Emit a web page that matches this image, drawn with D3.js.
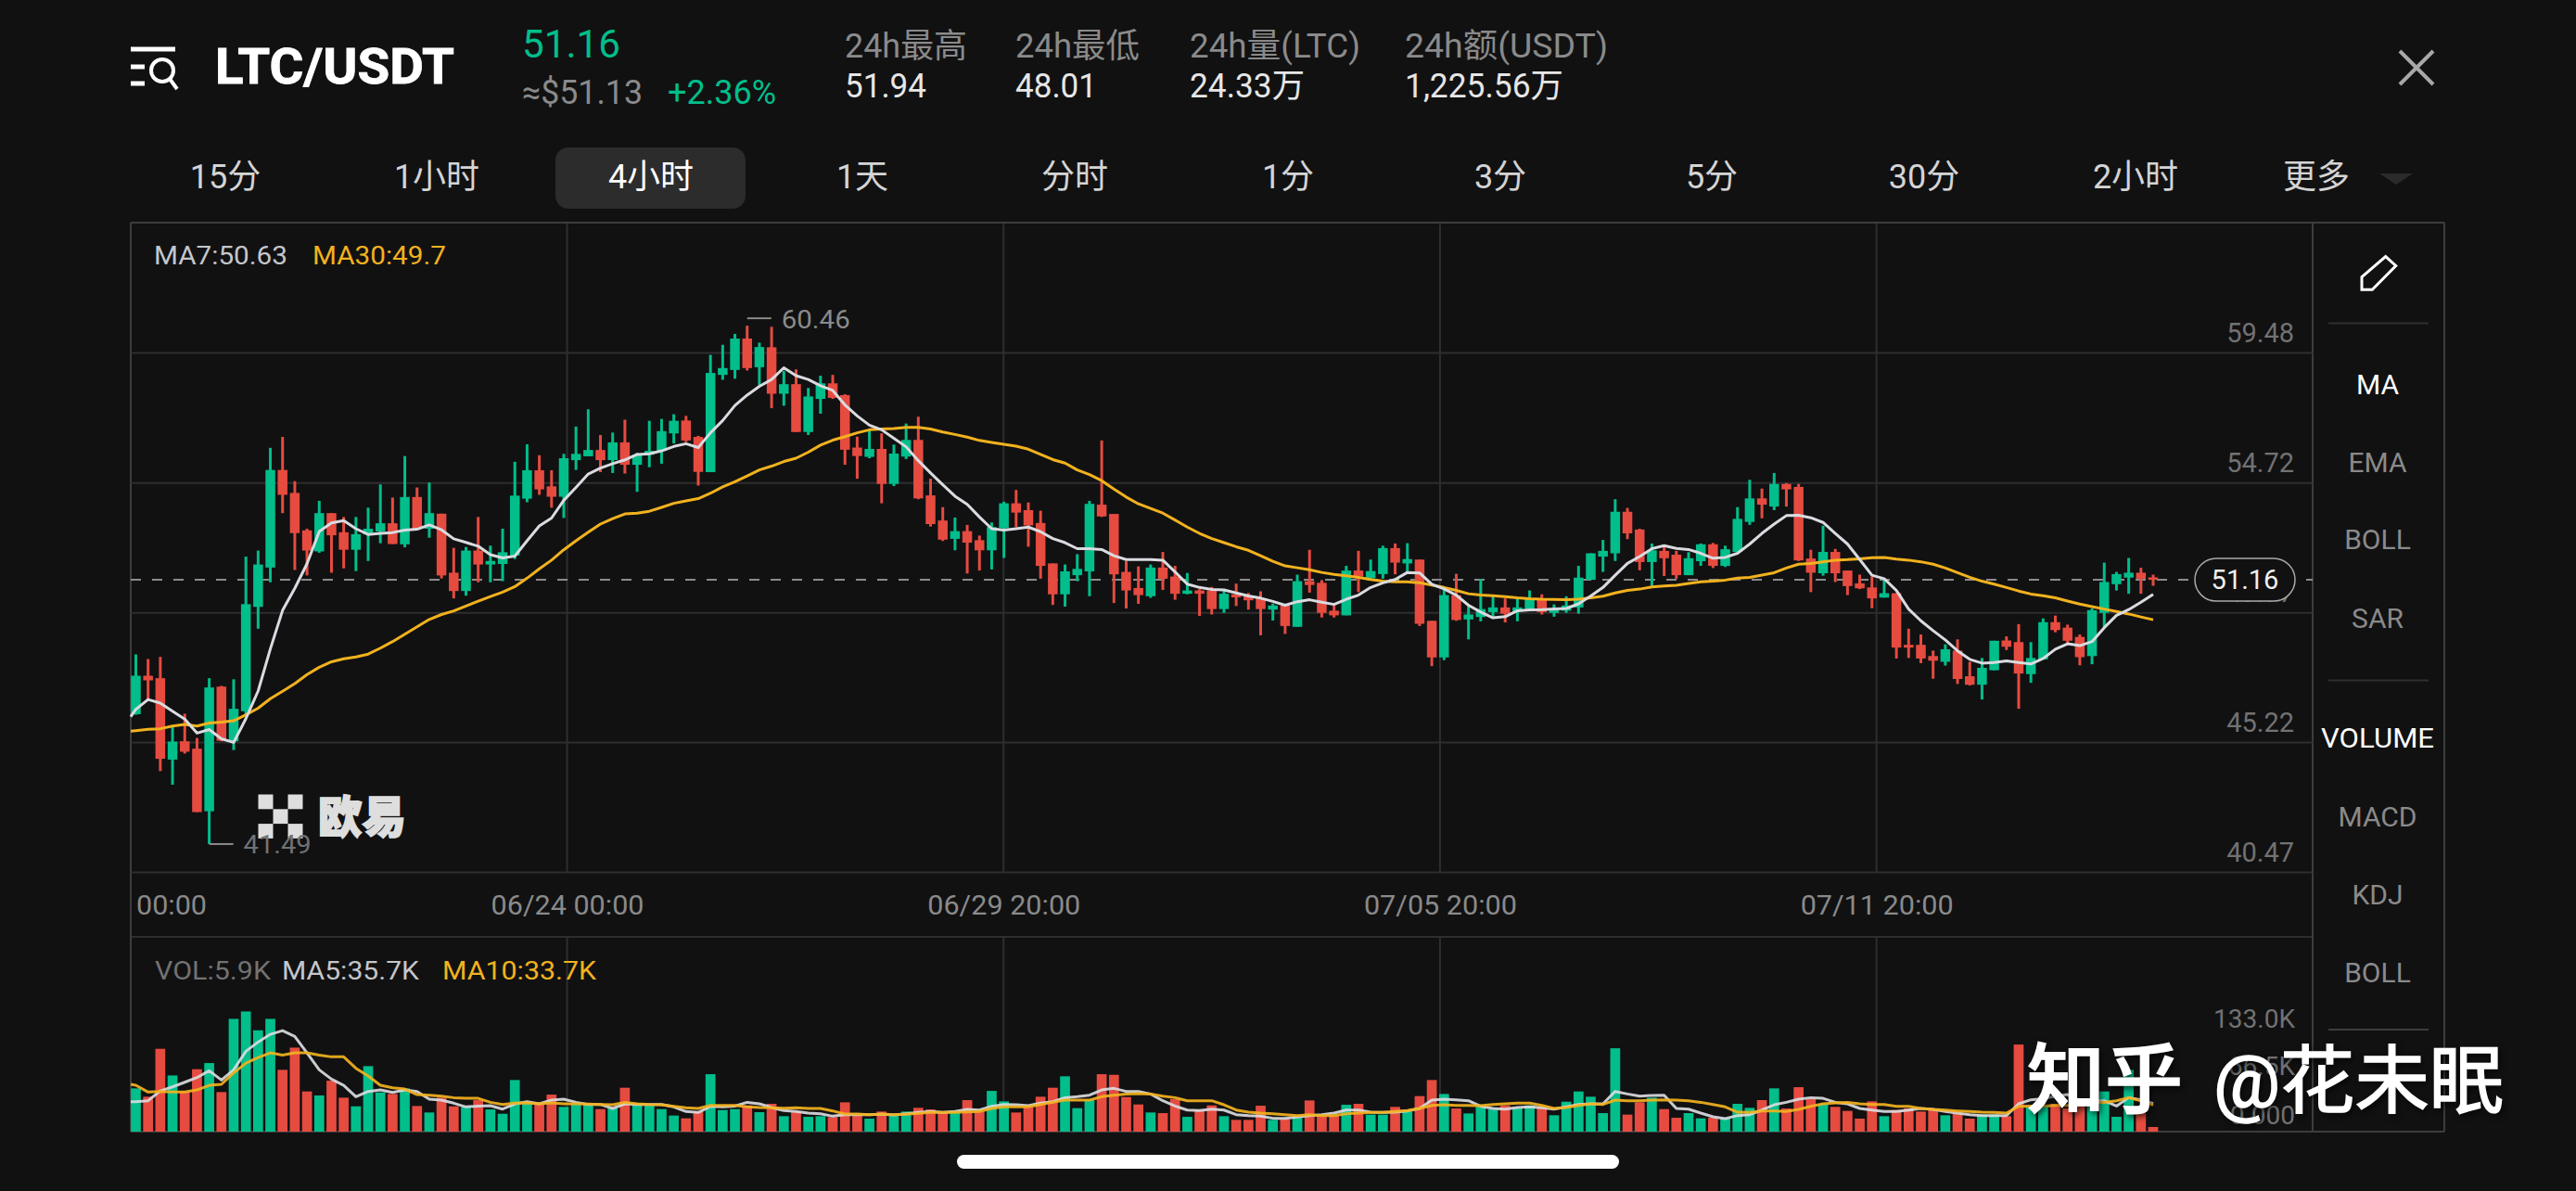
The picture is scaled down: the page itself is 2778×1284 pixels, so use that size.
<!DOCTYPE html>
<html lang="zh">
<head>
<meta charset="utf-8">
<title>LTC/USDT 4小时</title>
<script src="https://cdn.jsdelivr.net/npm/d3@7"></script>
<style>
  html, body { margin: 0; padding: 0; background: #111112; }
  svg { display: block; }
  text { font-family: Roboto, "Noto Sans CJK SC", sans-serif; }
</style>
</head>
<body>
<svg id="chart" width="2778" height="1284"></svg>
<script>
// Four-hour candles, oldest first
const opens = [
46.24,47.65,47.56,44.58,45.25,44.98,42.69,47.25,45.25,46.35,
50.17,51.61,55.18,54.34,52.97,52.20,53.60,52.90,52.26,52.82,
52.93,53.23,52.46,54.19,53.03,53.58,51.42,50.75,52.23,51.72,
51.74,52.05,54.13,55.17,54.58,54.20,55.54,55.68,55.91,55.54,
56.19,55.37,55.74,55.88,56.52,56.99,56.39,55.10,58.66,58.84,
59.99,58.94,59.67,57.97,58.32,56.57,57.78,58.35,57.92,56.00,
55.66,55.95,54.67,55.67,56.28,54.25,53.33,52.66,52.94,52.61,
52.24,53.05,53.96,53.71,53.24,51.76,50.63,51.33,51.47,53.91,
53.57,51.45,50.86,50.56,51.61,51.28,50.65,50.77,50.77,50.09,
50.63,50.56,50.48,50.07,50.22,49.44,51.11,51.05,50.03,49.86,
51.50,51.22,51.37,52.32,51.76,51.90,49.66,48.32,50.60,49.71,
49.80,49.98,50.15,50.00,50.09,50.45,49.95,50.03,50.15,51.16,
52.01,52.13,53.65,53.00,51.81,52.22,52.08,51.33,51.84,52.46,
51.67,52.18,53.28,54.14,53.84,54.67,54.56,51.94,51.40,52.18,
51.50,51.03,50.88,50.51,50.67,48.78,48.78,48.37,48.16,48.57,
47.63,47.32,47.85,48.94,48.88,47.71,48.25,49.61,49.41,49.07,
48.37,49.95,51.00,51.24,51.42,51.25];

const highs = [
48.43,48.26,48.34,45.79,46.26,45.37,47.56,47.28,47.52,52.01,
52.23,55.99,56.39,54.77,53.03,54.05,53.60,53.46,53.46,53.80,
54.65,54.17,55.69,54.54,54.72,53.58,52.33,52.36,53.46,52.41,
53.03,55.48,56.12,55.72,55.17,55.77,56.77,57.40,56.46,56.55,
57.02,55.81,56.98,57.05,57.22,57.16,56.43,59.39,59.76,60.16,
60.46,59.84,60.42,58.80,58.86,58.18,58.63,58.66,57.95,56.40,
56.63,56.52,56.11,56.88,57.13,54.86,53.82,53.44,53.17,52.78,
53.26,54.02,54.45,53.99,53.69,51.76,51.72,52.10,54.05,56.26,
53.57,51.84,51.65,51.72,52.18,51.67,51.41,50.82,50.90,50.77,
51.02,50.68,50.74,50.29,50.26,51.35,52.26,51.15,50.22,51.67,
52.22,51.90,52.41,52.49,52.50,51.90,49.66,50.79,51.38,50.20,
51.19,50.58,50.48,50.48,50.77,50.63,50.26,50.56,51.67,52.13,
52.62,54.11,53.79,53.03,52.49,52.41,52.22,52.17,52.49,52.51,
52.41,53.82,54.82,54.50,55.07,54.70,54.67,52.26,53.14,52.29,
51.50,51.35,51.28,51.14,50.67,49.37,49.16,48.57,48.80,48.98,
48.16,48.30,48.93,49.09,49.54,48.88,49.75,49.85,49.52,49.16,
50.11,51.79,51.45,51.96,51.60,51.35];

const lows = [
46.22,46.75,44.16,43.66,44.80,42.66,41.49,45.25,44.93,46.22,
49.37,51.07,53.60,51.52,51.32,52.15,51.42,51.58,51.48,51.85,
52.50,52.47,52.35,53.03,52.70,51.21,50.48,50.58,51.07,51.07,
51.11,51.92,54.00,54.27,53.80,53.42,55.18,55.68,55.10,55.07,
55.05,54.38,55.28,55.41,56.15,56.20,54.61,55.10,58.48,58.52,
58.82,58.29,57.44,57.53,56.57,56.46,57.24,57.78,55.37,54.86,
55.61,53.96,54.59,55.58,54.11,53.11,52.58,52.24,51.39,51.50,
51.54,51.96,53.09,52.37,51.20,50.24,50.18,51.11,50.56,53.46,
50.31,50.11,50.28,50.50,50.79,50.43,50.63,49.84,49.89,49.95,
50.20,50.07,49.13,49.67,49.18,49.44,50.69,49.78,49.78,49.86,
50.71,51.20,51.20,51.36,51.45,49.47,48.00,48.22,49.66,48.98,
49.64,49.78,49.60,49.64,50.07,49.89,49.81,49.95,49.92,51.16,
51.45,51.85,52.65,51.51,50.94,51.30,51.20,51.33,51.67,51.59,
51.63,52.18,53.17,53.41,53.71,53.84,51.85,50.71,51.31,51.08,
50.60,50.82,50.12,50.51,48.28,48.30,48.11,47.54,48.02,47.35,
47.29,46.78,47.85,48.59,46.44,47.39,48.25,49.24,48.84,48.03,
48.07,49.41,50.77,50.65,50.65,50.94];

const closes = [
47.65,47.48,44.61,45.24,44.87,42.66,47.22,45.27,46.44,50.27,
51.72,55.18,54.27,52.87,52.23,53.60,52.79,52.26,52.83,53.03,
53.23,52.47,54.19,53.03,53.60,51.32,50.75,52.23,51.72,51.85,
52.17,54.24,55.17,54.47,54.20,55.61,55.77,55.91,55.54,56.19,
55.37,55.74,55.88,56.60,56.98,56.26,55.11,58.73,58.91,59.99,
58.91,59.68,57.97,58.32,56.57,57.87,58.35,57.82,55.92,55.69,
55.95,54.67,55.78,56.28,54.14,53.20,52.63,52.94,52.52,52.24,
53.09,53.96,53.62,53.15,51.67,50.63,51.47,51.56,53.94,53.48,
51.36,50.77,50.60,51.61,51.20,50.65,50.77,50.65,50.09,50.65,
50.52,50.41,50.09,50.22,49.47,51.11,50.97,49.95,49.86,51.50,
51.28,51.48,52.32,51.79,51.92,49.55,48.32,50.60,49.69,49.89,
50.09,50.15,49.92,50.15,50.45,49.98,50.11,50.22,51.24,52.13,
52.22,53.65,52.86,51.81,52.24,51.95,51.33,51.95,52.46,51.67,
52.28,53.39,54.14,53.91,54.67,54.47,51.87,51.42,52.18,51.40,
50.93,50.85,50.48,50.67,48.68,48.68,48.28,48.20,48.62,47.53,
47.32,47.94,48.93,48.71,47.73,48.30,49.61,49.32,48.93,48.33,
50.05,51.08,51.37,51.42,51.20,51.16];

// Moving averages plotted over the candles
const ma7 = [
46.42,46.78,46.65,46.35,46.06,45.55,45.68,45.34,45.21,46.08,
47.09,48.63,50.04,50.85,51.75,52.93,53.24,53.33,53.03,52.82,
52.86,52.89,52.98,53.01,53.17,52.99,52.66,52.53,52.39,52.08,
51.96,52.03,52.59,53.13,53.42,54.07,54.54,55.03,55.25,55.41,
55.55,55.75,55.77,55.88,56.04,56.14,56.00,56.54,56.99,57.54,
57.92,58.24,58.49,58.92,58.63,58.49,58.26,58.09,57.56,57.16,
56.82,56.65,56.34,56.03,55.52,55.07,54.64,54.22,53.92,53.46,
53.03,52.98,53.03,53.09,52.92,52.67,52.52,52.30,52.30,52.27,
52.04,51.90,51.90,51.90,51.88,51.45,51.00,50.88,50.81,50.79,
50.68,50.57,50.49,50.37,50.23,50.36,50.43,50.34,50.26,50.45,
50.60,50.88,51.05,51.17,51.43,51.41,51.00,50.83,50.60,50.23,
49.98,49.77,49.81,50.03,50.06,50.07,50.09,50.11,50.28,50.57,
50.88,51.33,51.76,52.01,52.30,52.41,52.31,52.27,52.13,51.95,
51.98,52.13,52.47,52.86,53.20,53.51,53.52,53.43,53.26,52.86,
52.47,51.90,51.33,51.20,50.77,50.09,49.66,49.30,48.96,48.56,
48.25,48.11,48.13,48.19,48.13,48.08,48.28,48.62,48.82,48.75,
48.90,49.41,49.86,50.07,50.34,50.63];

const ma30 = [
45.64,45.69,45.71,45.81,45.87,45.81,45.92,45.95,46.00,46.22,
46.46,46.81,47.08,47.36,47.69,47.96,48.16,48.27,48.34,48.44,
48.66,48.90,49.17,49.44,49.71,49.89,50.02,50.20,50.38,50.55,
50.71,50.91,51.22,51.56,51.88,52.26,52.59,52.90,53.20,53.40,
53.57,53.60,53.67,53.81,53.96,54.05,54.13,54.33,54.56,54.75,
54.96,55.18,55.32,55.49,55.61,55.83,56.09,56.27,56.40,56.54,
56.65,56.68,56.70,56.74,56.74,56.68,56.57,56.48,56.38,56.26,
56.19,56.12,56.05,55.94,55.75,55.56,55.43,55.18,55.01,54.79,
54.48,54.19,53.94,53.77,53.60,53.35,53.09,52.86,52.67,52.52,
52.37,52.24,52.04,51.84,51.67,51.60,51.53,51.43,51.36,51.31,
51.25,51.17,51.11,51.09,51.09,51.05,50.97,50.88,50.77,50.65,
50.60,50.58,50.54,50.50,50.47,50.45,50.44,50.43,50.45,50.50,
50.56,50.68,50.77,50.82,50.90,50.93,50.96,51.03,51.09,51.11,
51.15,51.22,51.25,51.33,51.42,51.59,51.73,51.76,51.82,51.88,
51.90,51.93,51.97,51.98,51.92,51.88,51.82,51.73,51.59,51.42,
51.25,51.11,51.00,50.88,50.75,50.64,50.58,50.50,50.38,50.27,
50.18,50.09,50.00,49.91,49.80,49.70];

// Traded volume per candle and its moving averages, in thousands of LTC
const volumes = [
54.9,44.3,105.1,71.3,51.0,79.2,87.0,50.2,143.1,152.5,
128.6,143.1,78.4,106.6,51.0,45.9,64.7,43.1,32.1,83.1,
49.8,47.8,54.9,32.5,24.3,43.1,32.1,31.4,40.0,28.2,
22.7,65.5,37.2,35.3,47.0,31.4,35.3,35.3,28.6,29.4,
55.7,35.3,35.3,28.6,20.4,16.9,25.5,72.9,27.4,28.6,
33.3,24.7,35.3,19.6,25.5,18.8,19.6,18.4,37.2,20.4,
16.5,25.5,20.4,25.5,30.2,28.2,25.5,26.3,40.0,25.5,
51.7,38.4,24.3,31.4,44.3,55.7,70.2,29.8,40.0,72.9,
72.1,43.9,34.5,24.3,23.5,41.2,18.8,27.4,33.3,19.6,
14.9,14.9,32.9,14.9,15.7,17.6,39.6,19.6,20.4,34.1,
35.3,21.6,21.6,31.4,25.5,45.1,65.5,47.8,29.4,23.1,
33.3,28.2,33.3,29.4,33.3,31.4,20.8,38.0,51.0,44.3,
23.5,105.8,21.6,37.2,43.1,28.6,17.6,23.5,16.9,17.6,
16.9,35.3,30.2,40.0,54.9,29.4,56.4,41.2,35.3,31.4,
26.3,16.5,38.4,19.6,27.4,29.4,25.5,27.4,20.8,23.5,
16.5,21.6,21.6,19.6,110.5,31.4,33.3,35.3,29.4,33.3,
37.2,51.0,18.8,78.4,23.5,5.9];

const volMa5 = [
38.0,39.2,51.7,56.8,62.7,68.6,77.2,65.5,78.4,101.9,
113.7,123.5,128.2,120.7,100.0,78.4,66.6,58.8,44.3,51.0,
52.9,49.8,52.9,51.0,41.2,40.0,36.1,31.4,32.5,32.9,
28.6,35.3,38.0,35.3,40.0,41.2,37.2,34.5,34.5,29.4,
35.3,34.5,34.5,34.5,31.4,25.5,24.3,32.1,31.4,32.5,
37.2,35.3,30.6,26.7,25.5,23.5,22.7,19.6,21.6,21.6,
21.6,22.0,21.2,22.7,24.3,25.5,24.3,25.5,28.2,27.4,
32.1,34.5,34.1,32.9,36.1,38.0,43.1,44.3,46.3,52.9,
54.9,51.0,51.0,47.8,39.2,32.5,27.4,26.7,28.6,27.4,
21.6,20.4,19.6,16.9,16.9,18.4,20.4,21.6,23.5,27.4,
27.4,24.7,24.3,24.7,26.3,29.4,40.0,41.2,40.4,39.2,
32.1,29.4,28.6,30.6,31.4,30.2,28.6,31.4,34.5,35.3,
35.3,51.0,47.8,45.1,45.9,46.3,29.4,28.6,23.5,18.8,
16.5,20.4,21.6,27.4,34.1,37.2,41.2,43.1,42.3,37.2,
35.3,29.4,27.4,25.5,25.5,27.4,29.4,28.2,25.5,23.5,
21.6,20.4,20.4,20.4,35.3,40.4,41.9,45.1,47.0,39.2,
39.2,39.2,32.5,43.1,40.4,35.7];

const volMa10 = [
58.8,50.2,51.0,50.2,50.2,52.9,58.8,60.0,74.5,87.0,
94.0,100.0,97.2,100.0,100.0,97.2,94.9,94.9,80.4,70.6,
58.8,55.7,54.1,47.0,46.3,45.1,43.1,42.3,42.3,37.2,
34.5,36.1,36.5,35.3,36.5,35.3,35.3,34.9,34.5,34.1,
37.2,35.3,34.5,34.1,32.1,30.2,29.4,33.3,33.3,33.3,
31.4,30.6,30.2,29.8,30.2,29.4,29.4,26.3,22.3,22.3,
21.6,22.3,21.6,22.0,23.1,24.3,24.3,24.3,25.1,25.5,
29.4,31.4,31.4,31.4,34.5,37.2,40.0,40.0,40.0,44.3,
46.3,47.8,48.2,47.8,45.1,43.1,39.2,39.2,39.2,34.1,
27.4,24.7,23.5,22.7,21.6,20.4,21.6,20.4,20.4,22.7,
23.5,24.3,24.3,25.5,26.7,29.4,33.3,34.1,33.3,33.3,
32.9,34.5,35.3,36.1,36.1,33.3,29.4,30.6,33.3,35.3,
34.5,40.0,39.2,39.2,40.0,40.4,40.0,39.2,37.2,34.5,
31.4,24.7,24.3,26.3,26.3,25.5,28.2,32.1,35.3,36.5,
37.2,35.3,34.5,34.5,32.1,32.1,29.4,28.2,27.4,26.3,
25.5,24.7,24.3,23.5,32.1,32.5,32.5,33.3,33.3,33.3,
37.2,37.2,39.2,43.1,39.2,33.7];

// Where each average enters the panel from the candle just off its left edge
const ma7Entry = 46.15;
const ma30Entry = 45.62;
const volMa5Entry = 38.0;
const volMa10Entry = 60.0;

// Axis ticks
const priceTicks = [59.48, 54.72, 49.97, 45.22, 40.47];
const volumeTicks = [133, 66.5, 0];
const volumeTickLabels = ['133.0K', '66.5K', '0.000'];
const timeSlots = [35.27, 70.97, 106.67, 142.37];
const timeLabels = ['06/24 00:00', '06/29 20:00', '07/05 20:00', '07/11 20:00'];
const clippedTimeLabel = '00:00';

// Header and toolbar text
const tabLabels = ['15分', '1小时', '4小时', '1天', '分时', '1分', '3分', '5分', '30分', '2小时', '更多'];
const tabCenters = [243, 471, 702, 930, 1159, 1389, 1618, 1846, 2075, 2303, 2498];
const activeTab = '4小时';
const statNames = ['24h最高', '24h最低', '24h量(LTC)', '24h额(USDT)'];
const statValues = ['51.94', '48.01', '24.33万', '1,225.56万'];
const overlayTools = ['MA', 'EMA', 'BOLL', 'SAR'];
const panelTools = ['VOLUME', 'MACD', 'KDJ', 'BOLL'];
const lastPrice = 51.16;
const dayHigh = 60.46;
const dayLow = 41.49;

const COL = {
  bg: '#111112', up: '#01BE8B', down: '#E64B40', grid: '#2e2e2f', frame: '#3d3d3e',
  ma: '#D9DBE0', gold: '#F2B21E', mute: '#727272', soft: '#8a8a8a', text: '#e6e6e6'
};

const svg = d3.select('#chart');
const frame = { left: 141, right: 2494, rail: 2636, top: 240, mainBottom: 940, volTop: 1010, bottom: 1220 };

const x = d3.scaleLinear().domain([0, closes.length - 1]).range([146.5, 2322]);
const y = d3.scaleLinear().domain([40.47, 59.48]).range([940, 380]);
const v = d3.scaleLinear().domain([0, 133]).range([1220, 1107]);
const leftEdgeSlot = x.invert(frame.left);

// Text helper: optional width squeezes the glyphs to a measured run length
function label(parent, s, px, py, o = {}) {
  const t = parent.append('text').attr('x', px).attr('y', py).text(s)
    .attr('font-size', o.size || 28).attr('fill', o.fill || COL.text)
    .attr('text-anchor', o.anchor || 'start').attr('font-weight', o.weight || 400);
  if (o.width) t.attr('textLength', o.width).attr('lengthAdjust', 'spacingAndGlyphs');
  if (o.thicken) t.attr('stroke', o.fill || COL.text).attr('stroke-width', o.thicken).attr('paint-order', 'stroke');
  return t;
}

svg.append('rect').attr('width', 2778).attr('height', 1284).attr('fill', COL.bg);

/* ---------- header ---------- */
const head = svg.append('g');
const menu = head.append('g').attr('stroke', '#fff').attr('fill', 'none');
menu.append('path').attr('d', 'M141 53H189M141 72H156M141 90H156').attr('stroke-width', 5);
menu.append('circle').attr('cx', 175).attr('cy', 76).attr('r', 12).attr('stroke-width', 4);
menu.append('path').attr('d', 'M183 85L191 96').attr('stroke-width', 4);

label(head, 'LTC/USDT', 232, 90, { size: 54, weight: 700, fill: '#fff', width: 258, thicken: 0.8 });
label(head, '51.16', 563, 62, { size: 42, fill: COL.up, width: 106 });
label(head, '≈$51.13', 563, 112, { size: 36, fill: COL.soft, width: 130 });
label(head, '+2.36%', 720, 112, { size: 36, fill: COL.up, width: 117 });

const statX = [911, 1095, 1283, 1515];
const statNameW = [132, 134, 184, 219];
const statValW = [88, 88, 124, 171];
statNames.forEach((s, i) => label(head, s, statX[i], 62, { size: 36, fill: COL.soft, width: statNameW[i] }));
statValues.forEach((s, i) => label(head, s, statX[i], 105, { size: 36, fill: COL.text, width: statValW[i] }));

head.append('path').attr('d', 'M2588 55L2624 91M2624 55L2588 91')
  .attr('stroke', '#a8a8a8').attr('stroke-width', 4).attr('fill', 'none');

/* ---------- interval tabs ---------- */
const tabs = svg.append('g');
tabs.append('rect').attr('x', 599).attr('y', 159).attr('width', 205).attr('height', 66).attr('rx', 14).attr('fill', '#2c2c2d');
tabLabels.forEach((s, i) => {
  label(tabs, s, tabCenters[i], 203, { size: 36, anchor: 'middle', fill: s === activeTab ? '#fff' : '#d4d4d4' });
});
tabs.append('path').attr('d', 'M2566 187L2602 187L2584 199Z').attr('fill', '#2b2b2c');

/* ---------- panel frame and grid ---------- */
const grid = svg.append('g');
const rule = (x1, y1, x2, y2, c, w) => grid.append('line').attr('x1', x1).attr('y1', y1).attr('x2', x2).attr('y2', y2)
  .attr('stroke', c).attr('stroke-width', w);

const slotX = timeSlots.map(x);
slotX.forEach(px => {
  rule(px, frame.top, px, frame.mainBottom, COL.grid, 2);
  rule(px, frame.volTop, px, frame.bottom, COL.grid, 2);
});
rule(frame.left, frame.volTop, frame.right, frame.volTop, COL.grid, 2);
rule(frame.left, frame.top, frame.rail, frame.top, COL.frame, 2);
rule(frame.left, frame.top, frame.left, frame.bottom, COL.frame, 2);
rule(frame.right, frame.top, frame.right, frame.bottom, COL.frame, 2);
rule(frame.rail, frame.top, frame.rail, frame.bottom, COL.frame, 2);
rule(frame.left, frame.bottom, frame.rail, frame.bottom, COL.frame, 2);

// Price axis: tick lines double as horizontal grid, numbers sit above them
const priceAxis = d3.axisLeft(y).tickValues(priceTicks).tickFormat(d3.format('.2f'))
  .tickSize(frame.right - frame.left).tickPadding(0);
const pa = svg.append('g').attr('transform', `translate(${frame.right},0)`).call(priceAxis);
pa.select('.domain').remove();
pa.selectAll('line').attr('stroke', COL.grid).attr('stroke-width', 2);
pa.selectAll('text').attr('x', -20).attr('dy', -11.5).attr('text-anchor', 'end')
  .attr('font-size', 29).attr('fill', COL.mute).style('font-family', 'Roboto');

// Time axis: labels only, the vertical rules are already in the grid
const timeAxis = d3.axisBottom(x).tickValues(timeSlots).tickFormat((d, i) => timeLabels[i]).tickSize(0).tickPadding(0);
const ta = svg.append('g').attr('transform', 'translate(0,976)').call(timeAxis);
ta.select('.domain').remove();
ta.selectAll('text').attr('y', 0).attr('dy', '0.36em').attr('font-size', 29).attr('fill', COL.soft)
  .style('font-family', 'Roboto').attr('textLength', 165).attr('lengthAdjust', 'spacingAndGlyphs');
label(svg, clippedTimeLabel, 147, 986, { size: 29, fill: COL.soft, width: 76 });

/* ---------- last price guide ---------- */
svg.append('line').attr('x1', frame.left).attr('x2', frame.right).attr('y1', y(lastPrice)).attr('y2', y(lastPrice))
  .attr('stroke', '#8c8c8c').attr('stroke-width', 2).attr('stroke-dasharray', '11 12');

/* ---------- watermark logo (under the candles) ---------- */
const logo = svg.append('g').attr('fill', '#dedede');
[[0, 0], [2, 0], [1, 1], [0, 2], [2, 2]].forEach(([c, r]) => {
  logo.append('rect').attr('x', 278.5 + c * 16).attr('y', 856.5 + r * 15.8).attr('width', 16).attr('height', 15.8);
});
label(logo, '欧易', 343, 898, { size: 48, weight: 900, fill: '#dedede', width: 95, thicken: 1.6 }).style('font-family', '"Noto Sans CJK SC"');

/* ---------- candles ---------- */
const candles = closes.map((c, i) => ({ i, o: opens[i], h: highs[i], l: lows[i], c }));
const isUp = d => d.c >= d.o;
const candleG = svg.append('g').selectAll('g').data(candles).join('g');
candleG.append('line')
  .attr('x1', d => x(d.i)).attr('x2', d => x(d.i))
  .attr('y1', d => y(d.h)).attr('y2', d => y(d.l))
  .attr('stroke', d => isUp(d) ? COL.up : COL.down).attr('stroke-width', 3);
candleG.append('rect')
  .attr('x', d => x(d.i) - 5.25).attr('width', 10.5)
  .attr('y', d => y(Math.max(d.o, d.c)))
  .attr('height', d => Math.max(2, Math.abs(y(d.o) - y(d.c))))
  .attr('fill', d => isUp(d) ? COL.up : COL.down);

// Each average as slot/value pairs, starting at the panel's left edge
const withEntry = (series, entry) => [[leftEdgeSlot, entry], ...series.map((val, i) => [i, val])];

// Moving-average lines over the candles
const priceLine = d3.line().x(d => x(d[0])).y(d => y(d[1]));
[[withEntry(ma30, ma30Entry), COL.gold], [withEntry(ma7, ma7Entry), COL.ma]].forEach(([series, color]) => {
  svg.append('path').datum(series).attr('d', priceLine).attr('fill', 'none')
    .attr('stroke', color).attr('stroke-width', 3).attr('stroke-linejoin', 'round');
});

/* ---------- high / low markers ---------- */
const markHighY = y(dayHigh) - 8;
svg.append('line').attr('x1', x(50)).attr('x2', x(50) + 26).attr('y1', markHighY).attr('y2', markHighY)
  .attr('stroke', COL.soft).attr('stroke-width', 2);
label(svg, d3.format('.2f')(dayHigh), x(50) + 37, y(dayHigh) + 3, { size: 28, fill: COL.soft, width: 74 });
svg.append('line').attr('x1', x(6)).attr('x2', x(6) + 26).attr('y1', y(dayLow)).attr('y2', y(dayLow))
  .attr('stroke', COL.soft).attr('stroke-width', 2);
label(svg, d3.format('.2f')(dayLow), x(6) + 37, y(dayLow) + 10, { size: 28, fill: COL.mute, width: 73 });

/* ---------- last price pill ---------- */
svg.append('rect').attr('x', 2367).attr('y', y(lastPrice) - 23).attr('width', 108).attr('height', 46).attr('rx', 23)
  .attr('fill', COL.bg).attr('stroke', '#a9a9a9').attr('stroke-width', 1.5);
label(svg, d3.format('.2f')(lastPrice), 2421, y(lastPrice) + 10, { size: 29, anchor: 'middle', fill: '#f0f0f0' });

/* ---------- main panel legend ---------- */
label(svg, `MA7:${ma7[ma7.length - 1]}`, 166, 285, { size: 28, fill: '#c4c6ca', width: 144 });
label(svg, `MA30:${d3.format('.1f')(ma30[ma30.length - 1])}`, 337, 285, { size: 28, fill: COL.gold, width: 144 });

/* ---------- volume panel ---------- */
svg.append('g').selectAll('rect').data(candles).join('rect')
  .attr('x', d => x(d.i) - 5.35).attr('width', 10.7)
  .attr('y', d => v(volumes[d.i])).attr('height', d => v(0) - v(volumes[d.i]))
  .attr('fill', d => isUp(d) ? COL.up : COL.down);

const volLine = d3.line().x(d => x(d[0])).y(d => v(d[1]));
[[withEntry(volMa5, volMa5Entry), COL.ma], [withEntry(volMa10, volMa10Entry), COL.gold]].forEach(([series, color]) => {
  svg.append('path').datum(series).attr('d', volLine).attr('fill', 'none')
    .attr('stroke', color).attr('stroke-width', 3).attr('stroke-opacity', 0.92).attr('stroke-linejoin', 'round');
});

const volumeAxis = d3.axisLeft(v).tickValues(volumeTicks).tickFormat((d, i) => volumeTickLabels[i]).tickSize(0).tickPadding(0);
const va = svg.append('g').attr('transform', `translate(2475,0)`).call(volumeAxis);
va.select('.domain').remove();
const volLabelLift = [0, 5, 9];
va.selectAll('text').attr('x', 0).attr('dy', (d, i) => -volLabelLift[i]).attr('text-anchor', 'end')
  .attr('font-size', 28).attr('fill', COL.mute).style('font-family', 'Roboto');

label(svg, `VOL:${volumes[volumes.length - 1]}K`, 167, 1056, { size: 28, fill: COL.mute, width: 125 });
label(svg, `MA5:${volMa5[volMa5.length - 1]}K`, 304, 1056, { size: 28, fill: '#c4c6ca', width: 148 });
label(svg, `MA10:${volMa10[volMa10.length - 1]}K`, 477, 1056, { size: 28, fill: COL.gold, width: 166 });

/* ---------- indicator rail ---------- */
const rail = svg.append('g');
rail.append('path').attr('d', 'M2547 298.6L2572.7 276.6L2583.7 286.5L2558.3 312.3H2547Z')
  .attr('fill', 'none').attr('stroke', '#fff').attr('stroke-width', 3);
[348.5, 733.5, 1110].forEach(py => {
  rail.append('line').attr('x1', 2511).attr('x2', 2619).attr('y1', py).attr('y2', py)
    .attr('stroke', py === 1110 ? COL.frame : COL.grid).attr('stroke-width', 2);
});
const overlayY = [415, 499, 582, 667];
const panelY = [796, 881, 965, 1049];
overlayTools.forEach((s, i) => label(rail, s, 2564, overlayY[i] + 10, { size: 30, anchor: 'middle', fill: i === 0 ? '#fff' : COL.soft }));
panelTools.forEach((s, i) => label(rail, s, 2564, panelY[i] + 10, { size: 30, anchor: 'middle', fill: i === 0 ? '#fff' : COL.soft, width: s === 'VOLUME' ? 122 : undefined }));

/* ---------- publisher stamp and home indicator ---------- */
const stamp = svg.append('g').style('filter', 'drop-shadow(2px 3px 3px rgba(0,0,0,.65))');
label(stamp, '知乎', 2186, 1193, { size: 82, weight: 500, fill: '#fff', width: 168, thicken: 1.5 });
label(stamp, '@花未眠', 2387, 1193, { size: 80, weight: 400, fill: '#fff', width: 313, thicken: 1.5 });

svg.append('rect').attr('x', 1032).attr('y', 1245).attr('width', 714).attr('height', 15).attr('rx', 7.5).attr('fill', '#fff');
</script>
</body>
</html>
